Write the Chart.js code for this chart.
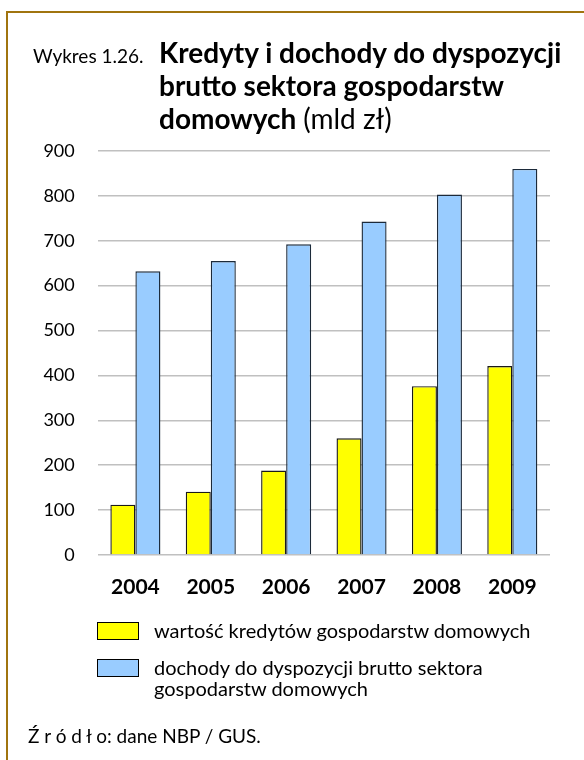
<!DOCTYPE html>
<html>
<head>
<meta charset="utf-8">
<script src="https://cdn.jsdelivr.net/npm/chart.js@4/dist/chart.umd.min.js"></script>
<style>
  html, body { margin: 0; padding: 0; background: #fff; }
  #wrap { position: relative; width: 584px; height: 760px; overflow: hidden; font-family: Lato, sans-serif; color: #000; }
  #frame { position: absolute; left: 6px; top: 11px; right: -10px; bottom: -10px; border-top: 2px solid #a0740f; border-left: 2px solid #a0740f; }
  #cv { position: absolute; left: 0; top: 0; }
  .t { position: absolute; white-space: nowrap; }
  #pre { left: 33px; top: 44px; font-size: 19px; }
  #ttl { left: 159px; top: 36px; font-size: 28px; font-weight: bold; line-height: 33px; }
  #ttl span { font-weight: normal; }
  #legend { position: absolute; left: 97px; top: 620px; font-size: 20px; }
  .li { position: relative; padding-left: 57px; line-height: 21px; margin-bottom: 16px; }
  .sw { position: absolute; left: 0; top: 2px; width: 40px; height: 16px; border: 1px solid #000; }
  #src { left: 28px; top: 724px; font-size: 19px; }
</style>
</head>
<body>
<div id="wrap">
  <div id="frame"></div>
  <canvas id="cv" width="584" height="760"></canvas>
  <div class="t" id="pre">Wykres 1.26.</div>
  <div class="t" id="ttl">Kredyty i dochody do dyspozycji<br>brutto sektora gospodarstw<br>domowych <span>(mld zł)</span></div>
  <div id="legend"></div>
  <div class="t" id="src">Ź r ó d ł o: dane NBP / GUS.</div>
</div>
<script>
const years = ['2004', '2005', '2006', '2007', '2008', '2009'];
const kredyty = [112, 141, 188, 260, 376, 421];
const dochody = [632, 655, 692, 743, 803, 860];
const seriesNames = ['wartość kredytów gospodarstw domowych', 'dochody do dyspozycji brutto sektora|gospodarstw domowych'];
const yTicks = [0, 100, 200, 300, 400, 500, 600, 700, 800, 900];

const colors = ['#ffff00', '#99ccff'];

const chart = new Chart(document.getElementById('cv'), {
  type: 'bar',
  data: {
    labels: years,
    datasets: [
      { label: seriesNames[0], data: kredyty, backgroundColor: colors[0], borderColor: '#1a1a1a', borderWidth: 1.4 },
      { label: seriesNames[1], data: dochody, backgroundColor: colors[1], borderColor: '#1c2a3a', borderWidth: 1.4 }
    ]
  },
  options: {
    responsive: false,
    animation: false,
    devicePixelRatio: 1,
    layout: { padding: { left: 0, right: 34, top: 151, bottom: 145 } },
    plugins: { legend: { display: false }, tooltip: { enabled: false }, title: { display: false } },
    datasets: { bar: { categoryPercentage: 0.664, barPercentage: 1.0 } },
    scales: {
      x: {
        grid: { display: false, drawTicks: false },
        border: { display: false },
        ticks: { color: '#000', font: { family: 'Lato', size: 21, weight: 'bold' }, padding: 20 },
        afterFit(s) { s.height = 60; }
      },
      y: {
        min: 0, max: 900,
        afterBuildTicks(s) { s.ticks = yTicks.map(v => ({ value: v })); },
        grid: { color: '#c0c0c0', lineWidth: 1.5, drawTicks: false },
        border: { display: false },
        ticks: { color: '#000', font: { family: 'Lato', size: 18 }, padding: 23 },
        afterFit(s) { s.width = 97.7; }
      }
    }
  }
});

const lg = document.getElementById('legend');
chart.data.datasets.forEach(ds => {
  const d = document.createElement('div');
  d.className = 'li';
  const sw = document.createElement('div');
  sw.className = 'sw';
  sw.style.background = ds.backgroundColor;
  d.appendChild(sw);
  ds.label.split('|').forEach((line, i) => {
    if (i) d.appendChild(document.createElement('br'));
    d.appendChild(document.createTextNode(line));
  });
  lg.appendChild(d);
});
</script>
</body>
</html>
